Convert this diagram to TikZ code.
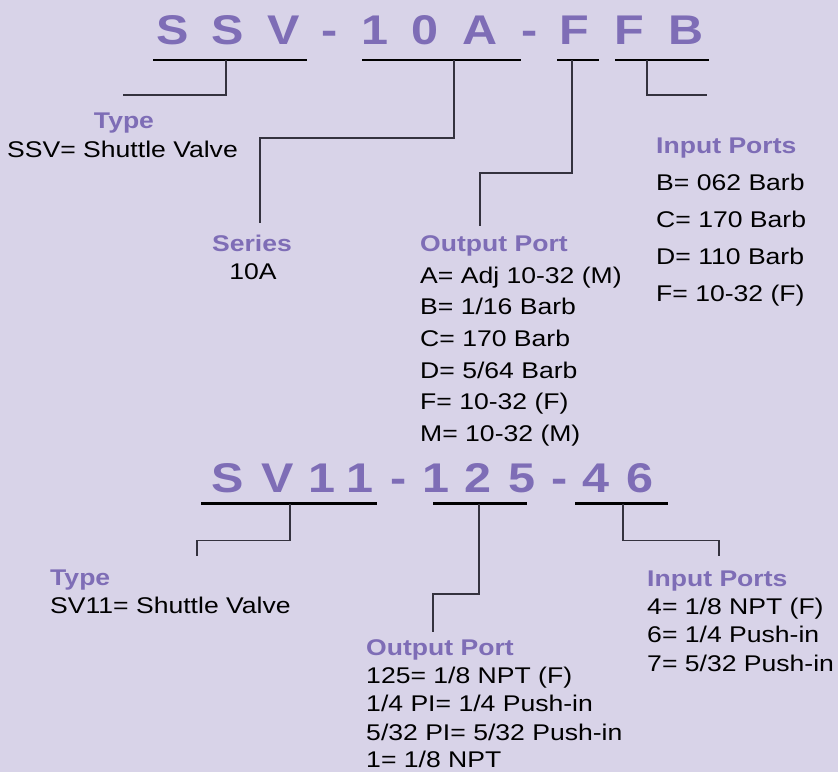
\documentclass[tikz,border=0pt]{standalone}
\usepackage{fontspec}
\setmainfont{Liberation Sans}
\definecolor{bgc}{RGB}{216,211,232}
\definecolor{pur}{RGB}{126,109,182}
\definecolor{conc}{RGB}{52,50,62}
\begin{document}
\begin{tikzpicture}[x=1pt,y=-1pt,
  code/.style={font=\fontsize{41.5}{41.5}\selectfont\bfseries, text=pur, anchor=base, inner sep=0pt, xscale=1.17},
  head/.style={font=\fontsize{22.7}{27}\selectfont\bfseries, text=pur, inner sep=0pt, xscale=1.17},
  item/.style={font=\fontsize{22.7}{27}\selectfont, text=black, inner sep=0pt, xscale=1.17, anchor=base west},
  uline/.style={line width=2.6pt, black},
  conn/.style={line width=1.4pt, conc}]
\fill[bgc] (0,0) rectangle (838,772);
\useasboundingbox (0,0) rectangle (838,772);

% ---------- top code ----------
\foreach \x/\c [count=\i] in {172.5/S, 228/S, 284/V, 329.5/-, 374.5/1, 425/0, 480/A, 530/-, 574/F, 629/F, 686/B}
  \node[code] (tc\i) at (\x,44.5) {\c};

\foreach \a/\b [count=\i] in {153/307, 362/521, 557/599, 615/709}{
  \coordinate (tua\i) at (\a,60);
  \coordinate (tub\i) at (\b,60);
  \draw[uline] (tua\i) -- (tub\i);
}

\coordinate (ts1) at (226,60);
\coordinate (te1) at (123,95);
\coordinate (ts2) at (454,60);
\coordinate (tm2) at (260,138);
\coordinate (te2) at (260,223);
\coordinate (ts3) at (572,60);
\coordinate (tm3) at (480,173);
\coordinate (te3) at (480,226);
\coordinate (ts4) at (647,60);
\coordinate (te4) at (707,95);
\draw[conn] (ts1) |- (te1);
\draw[conn] (ts2) |- (tm2) -- (te2);
\draw[conn] (ts3) |- (tm3) -- (te3);
\draw[conn] (ts4) |- (te4);

\node[head, anchor=base] (ttype) at (124,128) {Type};
\node[item] (ttypev) at (7,157) {SSV= Shuttle Valve};
\node[head, anchor=base] (tser) at (252,251) {Series};
\node[item, anchor=base] (tserv) at (253,279) {10A};

\node[head, anchor=base west] (tout) at (420,251) {Output Port};
\node[item] (to1) at (420,283) {A= Adj 10-32 (M)};
\node[item] (to2) at (420,314.7) {B= 1/16 Barb};
\node[item] (to3) at (420,346.4) {C= 170 Barb};
\node[item] (to4) at (420,378.1) {D= 5/64 Barb};
\node[item] (to5) at (420,409.8) {F= 10-32 (F)};
\node[item] (to6) at (420,441.5) {M= 10-32 (M)};

\node[head, anchor=base west] (tin) at (656,153) {Input Ports};
\node[item] (ti1) at (656,190) {B= 062 Barb};
\node[item] (ti2) at (656,227) {C= 170 Barb};
\node[item] (ti3) at (656,264) {D= 110 Barb};
\node[item] (ti4) at (656,301) {F= 10-32 (F)};

% ---------- bottom code ----------
\foreach \x/\c [count=\i] in {227.5/S, 277.5/V, 321.5/1, 360/1, 398.5/-, 435.5/1, 477.5/2, 522/5, 559.5/-, 595.5/4, 639.5/6}
  \node[code] (bc\i) at (\x,492) {\c};

\foreach \a/\b [count=\i] in {201/377, 433/527, 575/668}{
  \coordinate (bua\i) at (\a,503.5);
  \coordinate (bub\i) at (\b,503.5);
  \draw[uline] (bua\i) -- (bub\i);
}

\coordinate (bs1) at (290,503.5);
\coordinate (bm1) at (197,540.5);
\coordinate (be1) at (197,556);
\coordinate (bs2) at (479,503.5);
\coordinate (bm2) at (433,594);
\coordinate (be2) at (433,632);
\coordinate (bs3) at (623,503.5);
\coordinate (bm3) at (719,540.5);
\coordinate (be3) at (719,556);
\draw[conn] (bs1) |- (bm1) -- (be1);
\draw[conn] (bs2) |- (bm2) -- (be2);
\draw[conn] (bs3) |- (bm3) -- (be3);

\node[head, anchor=base west] (btype) at (50,585) {Type};
\node[item] (btypev) at (50,613) {SV11= Shuttle Valve};

\node[head, anchor=base west] (bout) at (366,655) {Output Port};
\node[item] (bo1) at (366,683.5) {125= 1/8 NPT (F)};
\node[item] (bo2) at (366,711.8) {1/4 PI= 1/4 Push-in};
\node[item] (bo3) at (366,740) {5/32 PI= 5/32 Push-in};
\node[item] (bo4) at (366,767.5) {1= 1/8 NPT};

\node[head, anchor=base west] (bin) at (647,586) {Input Ports};
\node[item] (bi1) at (647,614.3) {4= 1/8 NPT (F)};
\node[item] (bi2) at (647,642.7) {6= 1/4 Push-in};
\node[item] (bi3) at (647,671) {7= 5/32 Push-in};
\end{tikzpicture}
\end{document}
